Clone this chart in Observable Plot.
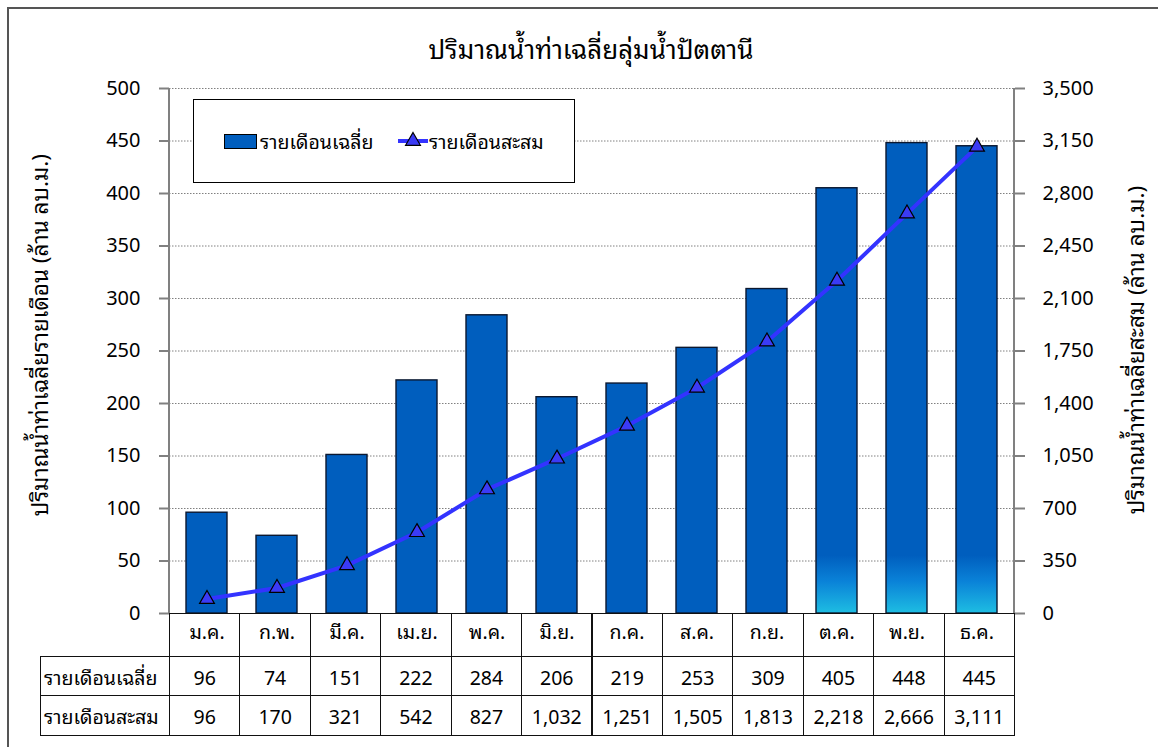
<!DOCTYPE html>
<html><head><meta charset="utf-8">
<script src="https://cdn.jsdelivr.net/npm/d3@7"></script>
<script src="https://cdn.jsdelivr.net/npm/@observablehq/plot@0.6"></script>
<style>
body{margin:0;background:#fff;font-family:Tahoma,"Noto Sans Thai Looped",Loma,Garuda,Waree,"Noto Sans Thai","Noto Sans",sans-serif;}
#wrap{position:relative;width:1158px;height:747px;overflow:hidden;background:#fff;}
#wrap svg{position:absolute;left:0;top:0;}
.frame{position:absolute;left:7px;top:7px;width:1200px;height:800px;border:2px solid #555;}
.title{position:absolute;left:0;width:1182px;top:26px;text-align:center;font-size:26px;font-weight:400;color:#000;}
.ytitle{position:absolute;font-size:22.5px;white-space:nowrap;color:#000;transform:translate(-50%,-50%) rotate(-90deg);}
.cell{position:absolute;box-sizing:border-box;border:1px solid #111;display:flex;align-items:center;justify-content:center;font-size:19.5px;color:#000;background:transparent;}
.lab{justify-content:flex-start;padding-left:3px;}
.legend{position:absolute;left:193px;top:99px;width:382px;height:84px;box-sizing:border-box;border:1.5px solid #000;background:#fff;}
.lg{position:absolute;font-size:19.5px;color:#000;line-height:20px;}
</style></head><body><div id="wrap"><div class="frame"></div></div>
<script>
const months = ["ม.ค.","ก.พ.","มี.ค.","เม.ย.","พ.ค.","มิ.ย.","ก.ค.","ส.ค.","ก.ย.","ต.ค.","พ.ย.","ธ.ค."];
const monthlyAvg = [96,74,151,222,284,206,219,253,309,405,448,445];
const cumulative = [96,170,321,542,827,1032,1251,1505,1813,2218,2666,3111];
const leftTicks = [0,50,100,150,200,250,300,350,400,450,500];
const rightTicks = [0,350,700,1050,1400,1750,2100,2450,2800,3150,3500];
const seriesNames = ["รายเดือนเฉลี่ย","รายเดือนสะสม"];
const titleText = "ปริมาณน้ำท่าเฉลี่ยลุ่มน้ำปัตตานี";
const leftLabel = "ปริมาณน้ำท่าเฉลี่ยรายเดือน (ล้าน ลบ.ม.)";
const rightLabel = "ปริมาณน้ำท่าเฉลี่ยสะสม (ล้าน ลบ.ม.)";
const gradientMonths = ["ต.ค.","พ.ย.","ธ.ค."];

const FONT = 'Tahoma,"Noto Sans Thai Looped",Loma,Garuda,Waree,"Noto Sans Thai","Noto Sans",sans-serif';
const k = 500 / 3500;
const fmt = d3.format(",");
const data = months.map((m, i) => ({month: m, avg: monthlyAvg[i], cum: cumulative[i], cumS: cumulative[i] * k, grad: gradientMonths.includes(m)}));

const BAR = "#005EBE";
const LINE = "#3333FF";

const defs = (index, scales) => {
  const s = d3.create("svg:defs");
  const g = s.append("linearGradient").attr("id", "barGrad").attr("gradientUnits", "userSpaceOnUse")
    .attr("x1", 0).attr("x2", 0).attr("y1", scales.y(55)).attr("y2", scales.y(0));
  g.append("stop").attr("offset", "0").attr("stop-color", BAR);
  g.append("stop").attr("offset", "0.45").attr("stop-color", "#0A82D8");
  g.append("stop").attr("offset", "1").attr("stop-color", "#1EBDE2");
  return s.node();
};
const axisLines = (index, scales, values, dims) => {
  const g = d3.create("svg:g").attr("stroke", "#808080").attr("stroke-width", 2);
  const x0 = dims.marginLeft, x1 = dims.width - dims.marginRight;
  const y0 = dims.marginTop, y1 = dims.height - dims.marginBottom;
  g.append("line").attr("x1", x0).attr("x2", x0).attr("y1", y0).attr("y2", y1);
  g.append("line").attr("x1", x1).attr("x2", x1).attr("y1", y0).attr("y2", y1);
  return g.node();
};

const chart = Plot.plot({
  width: 1158, height: 747,
  marginLeft: 169, marginRight: 144, marginTop: 88, marginBottom: 134,
  style: {fontFamily: FONT, background: "transparent"},
  x: {domain: months, paddingInner: 0.42, paddingOuter: 0.21, label: null},
  y: {domain: [0, 500], label: null},
  marks: [
    defs,
    Plot.gridY(leftTicks.slice(1), {stroke: "#808080", strokeOpacity: 1, strokeDasharray: "1.5,1.5"}),
    Plot.barY(data, {filter: d => !d.grad, x: "month", y: "avg", fill: BAR, stroke: "#0b1830", strokeWidth: 1.4}),
    Plot.barY(data, {filter: d => d.grad, x: "month", y: "avg", fill: "url(#barGrad)", stroke: "#0b1830", strokeWidth: 1.4}),
    axisLines,
    Plot.axisY(leftTicks, {anchor: "left", tickSize: 10, tickPadding: 19, stroke: "#808080", strokeWidth: 2, fontSize: 20, fill: "#000", label: null}),
    Plot.axisY(rightTicks.map(v => v * k), {anchor: "right", tickSize: 10, tickPadding: 18, stroke: "#808080", strokeWidth: 2, fontSize: 20, fill: "#000", label: null, tickFormat: d => fmt(Math.round(d / k))}),
    Plot.axisX({anchor: "bottom", tickSize: 0, tickPadding: 12, fontSize: 19.5, fill: "#000", label: null}),
    Plot.line(data, {x: "month", y: "cumS", stroke: LINE, strokeWidth: 4}),
    Plot.dot(data, {x: "month", y: "cumS", symbol: "triangle", r: 5.5, fill: "#3b3bf5", stroke: "#000", strokeWidth: 1.2})
  ]
});
const wrap = document.getElementById("wrap");
wrap.appendChild(chart);

// title & axis titles
const t = document.createElement("div"); t.className = "title"; t.textContent = titleText; wrap.appendChild(t);
const yl = document.createElement("div"); yl.className = "ytitle"; yl.textContent = leftLabel; yl.style.left = "38px"; yl.style.top = "335px"; wrap.appendChild(yl);
const yr = document.createElement("div"); yr.className = "ytitle"; yr.textContent = rightLabel; yr.style.left = "1134px"; yr.style.top = "350px"; wrap.appendChild(yr);

// data table aligned with x scale
const xs = chart.scale("x");
const [r0, r1] = xs.range;
const step = (r1 - r0) / months.length;
const rows = [{top: 613, h: 44}, {top: 656, h: 40}, {top: 695, h: 41}];
function cell(left, top, w, h, text, cls) {
  const d = document.createElement("div");
  d.className = "cell" + (cls ? " " + cls : "");
  d.style.left = left + "px"; d.style.top = top + "px"; d.style.width = w + "px"; d.style.height = h + "px";
  if (text != null) d.textContent = text;
  wrap.appendChild(d);
}
months.forEach((m, i) => {
  const L = r0 + i * step;
  cell(L, rows[0].top, step + 1, rows[0].h, null);
  cell(L, rows[1].top, step + 1, rows[1].h, String(monthlyAvg[i]));
  cell(L, rows[2].top, step + 1, rows[2].h, fmt(cumulative[i]));
});
cell(40, rows[1].top, r0 - 40 + 1, rows[1].h, seriesNames[0], "lab");
cell(40, rows[2].top, r0 - 40 + 1, rows[2].h, seriesNames[1], "lab");

// legend
const lg = document.createElement("div"); lg.className = "legend"; wrap.appendChild(lg);
const sw = document.createElement("div");
Object.assign(sw.style, {position: "absolute", left: "224px", top: "134px", width: "33px", height: "15px", background: BAR, border: "1px solid #000", boxSizing: "border-box"});
wrap.appendChild(sw);
const l1 = document.createElement("div"); l1.className = "lg"; l1.textContent = seriesNames[0]; l1.style.left = "260px"; l1.style.top = "131px"; wrap.appendChild(l1);
const ln = document.createElementNS("http://www.w3.org/2000/svg", "svg");
ln.setAttribute("width", 34); ln.setAttribute("height", 20);
Object.assign(ln.style, {position: "absolute", left: "396px", top: "131px"});
ln.innerHTML = `<line x1="2" x2="32" y1="10" y2="10" stroke="${LINE}" stroke-width="4"/><path d="${d3.symbol(d3.symbolTriangle, Math.PI * 5.5 * 5.5)()}" transform="translate(17,10)" fill="#3b3bf5" stroke="#000" stroke-width="1.2"/>`;
wrap.appendChild(ln);
const l2 = document.createElement("div"); l2.className = "lg"; l2.textContent = seriesNames[1]; l2.style.left = "429px"; l2.style.top = "131px"; wrap.appendChild(l2);
</script>
</body></html>
